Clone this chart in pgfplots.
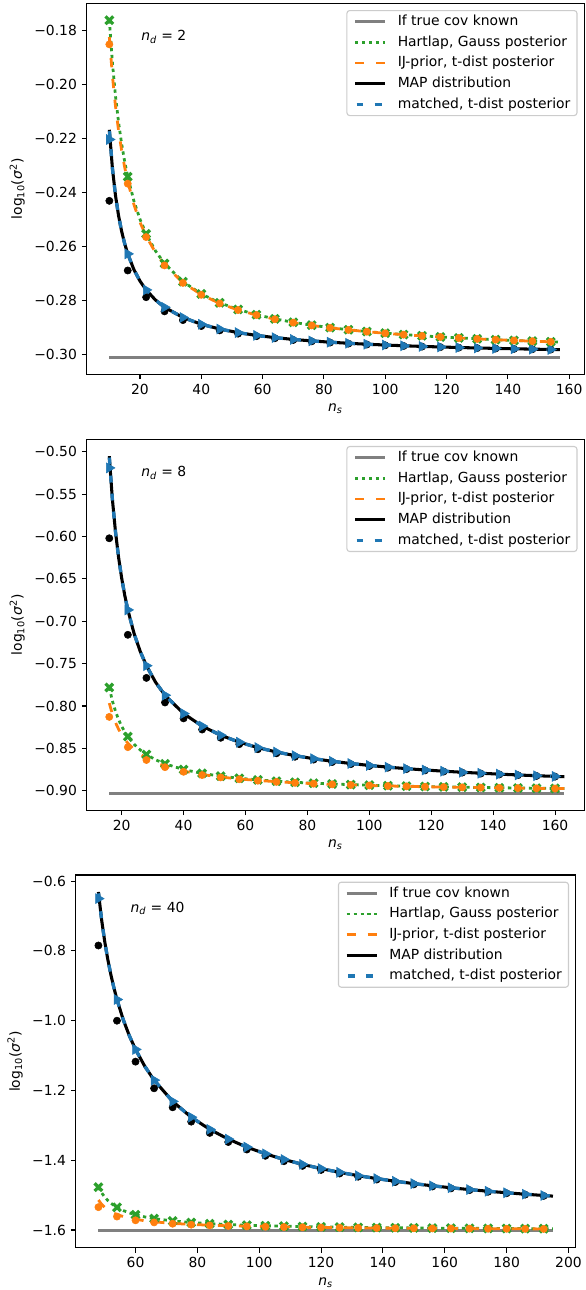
\documentclass[border=0pt]{standalone}
\usepackage{fontspec}
\setmainfont{DejaVu Sans}
\usepackage{pgfplots}
\usepackage{pgfplotstable}
\pgfplotsset{compat=1.18}

\definecolor{cgray}{HTML}{808080}
\definecolor{cgreen}{HTML}{2CA02C}
\definecolor{corange}{HTML}{FF7F0E}
\definecolor{cblue}{HTML}{1F77B4}

% filled X marker, like matplotlib's 'X'
\pgfdeclareplotmark{fatx}{%
  \pgfpathmoveto{\pgfqpoint{0.919\pgfplotmarksize}{0.495\pgfplotmarksize}}%
  \pgfpathlineto{\pgfqpoint{0.424\pgfplotmarksize}{0pt}}%
  \pgfpathlineto{\pgfqpoint{0.919\pgfplotmarksize}{-0.495\pgfplotmarksize}}%
  \pgfpathlineto{\pgfqpoint{0.495\pgfplotmarksize}{-0.919\pgfplotmarksize}}%
  \pgfpathlineto{\pgfqpoint{0pt}{-0.424\pgfplotmarksize}}%
  \pgfpathlineto{\pgfqpoint{-0.495\pgfplotmarksize}{-0.919\pgfplotmarksize}}%
  \pgfpathlineto{\pgfqpoint{-0.919\pgfplotmarksize}{-0.495\pgfplotmarksize}}%
  \pgfpathlineto{\pgfqpoint{-0.424\pgfplotmarksize}{0pt}}%
  \pgfpathlineto{\pgfqpoint{-0.919\pgfplotmarksize}{0.495\pgfplotmarksize}}%
  \pgfpathlineto{\pgfqpoint{-0.495\pgfplotmarksize}{0.919\pgfplotmarksize}}%
  \pgfpathlineto{\pgfqpoint{0pt}{0.424\pgfplotmarksize}}%
  \pgfpathlineto{\pgfqpoint{0.495\pgfplotmarksize}{0.919\pgfplotmarksize}}%
  \pgfpathclose
  \pgfusepathqfill
}

% n_d = 2 : theory curves (N, Hartlap, IJ-prior, MAP)
\pgfplotstableread{
N hart ij map
10 -0.17609 -0.18235 -0.21671
11 -0.19189 -0.19673 -0.23099
12 -0.20412 -0.20791 -0.24103
13 -0.21388 -0.21695 -0.24850
14 -0.22185 -0.22435 -0.25429
15 -0.22848 -0.23061 -0.25891
16 -0.23408 -0.23587 -0.26269
18 -0.24304 -0.24437 -0.26850
20 -0.24988 -0.25099 -0.27277
22 -0.25527 -0.25607 -0.27605
25 -0.26152 -0.26211 -0.27974
28 -0.26627 -0.26677 -0.28248
34 -0.27300 -0.27335 -0.28627
40 -0.27755 -0.27777 -0.28878
46 -0.28083 -0.28107 -0.29055
52 -0.28330 -0.28349 -0.29188
58 -0.28524 -0.28537 -0.29291
64 -0.28679 -0.28691 -0.29373
70 -0.28806 -0.28817 -0.29440
76 -0.28913 -0.28921 -0.29495
82 -0.29003 -0.29011 -0.29542
88 -0.29081 -0.29087 -0.29583
94 -0.29148 -0.29153 -0.29618
100 -0.29208 -0.29213 -0.29648
106 -0.29260 -0.29263 -0.29675
112 -0.29306 -0.29309 -0.29699
118 -0.29348 -0.29349 -0.29720
124 -0.29385 -0.29387 -0.29740
130 -0.29419 -0.29421 -0.29757
136 -0.29450 -0.29451 -0.29773
142 -0.29478 -0.29479 -0.29787
148 -0.29504 -0.29505 -0.29800
154 -0.29528 -0.29529 -0.29813
157 -0.29539 -0.29539 -0.29818
}\linesA
% n_d = 2 : simulations
\pgfplotstableread{
N hart ij dot blue
10 -0.17609 -0.18505 -0.24304 -0.22030
16 -0.23408 -0.23667 -0.26885 -0.26269
22 -0.25527 -0.25647 -0.27875 -0.27605
28 -0.26627 -0.26697 -0.28400 -0.28248
34 -0.27300 -0.27345 -0.28724 -0.28627
40 -0.27755 -0.27787 -0.28945 -0.28878
46 -0.28083 -0.28107 -0.29105 -0.29055
52 -0.28330 -0.28349 -0.29226 -0.29188
58 -0.28524 -0.28537 -0.29320 -0.29291
64 -0.28679 -0.28691 -0.29397 -0.29373
70 -0.28806 -0.28817 -0.29460 -0.29440
76 -0.28913 -0.28921 -0.29512 -0.29495
82 -0.29003 -0.29011 -0.29557 -0.29542
88 -0.29081 -0.29087 -0.29595 -0.29583
94 -0.29148 -0.29153 -0.29628 -0.29618
100 -0.29208 -0.29213 -0.29658 -0.29648
106 -0.29260 -0.29263 -0.29683 -0.29675
112 -0.29306 -0.29309 -0.29706 -0.29699
118 -0.29348 -0.29349 -0.29726 -0.29720
124 -0.29385 -0.29387 -0.29745 -0.29740
130 -0.29419 -0.29421 -0.29762 -0.29757
136 -0.29450 -0.29451 -0.29777 -0.29773
142 -0.29478 -0.29479 -0.29791 -0.29787
148 -0.29504 -0.29505 -0.29804 -0.29800
154 -0.29528 -0.29529 -0.29816 -0.29813
}\marksA

% n_d = 8
\pgfplotstableread{
N hart ij map
16 -0.77815 -0.79662 -0.50515
17 -0.79395 -0.80948 -0.55576
18 -0.80618 -0.81940 -0.59409
19 -0.81594 -0.82737 -0.62434
20 -0.82391 -0.83388 -0.64891
21 -0.83054 -0.83925 -0.66935
22 -0.83614 -0.84393 -0.68662
24 -0.84510 -0.85126 -0.71432
26 -0.85194 -0.85699 -0.73560
28 -0.85733 -0.86158 -0.75249
31 -0.86358 -0.86684 -0.77222
34 -0.86833 -0.87097 -0.78733
40 -0.87506 -0.87692 -0.80899
46 -0.87961 -0.88093 -0.82379
52 -0.88289 -0.88394 -0.83457
58 -0.88536 -0.88620 -0.84275
64 -0.88730 -0.88790 -0.84917
70 -0.88885 -0.88940 -0.85436
76 -0.89012 -0.89065 -0.85864
82 -0.89119 -0.89172 -0.86223
88 -0.89209 -0.89255 -0.86529
94 -0.89287 -0.89326 -0.86791
100 -0.89354 -0.89389 -0.87020
106 -0.89414 -0.89444 -0.87221
112 -0.89466 -0.89492 -0.87398
118 -0.89512 -0.89536 -0.87557
124 -0.89554 -0.89575 -0.87699
130 -0.89591 -0.89610 -0.87826
136 -0.89625 -0.89643 -0.87942
142 -0.89656 -0.89672 -0.88047
148 -0.89684 -0.89699 -0.88145
154 -0.89710 -0.89723 -0.88234
160 -0.89734 -0.89746 -0.88315
163 -0.89745 -0.89756 -0.88353
}\linesB
\pgfplotstableread{
N hart ij dot blue
16 -0.77815 -0.81292 -0.60206 -0.51900
22 -0.83614 -0.84863 -0.71600 -0.68662
28 -0.85733 -0.86378 -0.76687 -0.75249
34 -0.86833 -0.87227 -0.79588 -0.78733
40 -0.87506 -0.87772 -0.81467 -0.80899
46 -0.87961 -0.88153 -0.82784 -0.82379
52 -0.88289 -0.88434 -0.83759 -0.83457
58 -0.88536 -0.88650 -0.84510 -0.84275
64 -0.88730 -0.88820 -0.85106 -0.84917
70 -0.88885 -0.88960 -0.85591 -0.85436
76 -0.89012 -0.89075 -0.85993 -0.85864
82 -0.89119 -0.89172 -0.86332 -0.86223
88 -0.89209 -0.89255 -0.86622 -0.86529
94 -0.89287 -0.89326 -0.86872 -0.86791
100 -0.89354 -0.89389 -0.87091 -0.87020
106 -0.89414 -0.89444 -0.87283 -0.87221
112 -0.89466 -0.89492 -0.87454 -0.87398
118 -0.89512 -0.89536 -0.87606 -0.87557
124 -0.89554 -0.89575 -0.87743 -0.87699
130 -0.89591 -0.89610 -0.87867 -0.87826
136 -0.89625 -0.89643 -0.87979 -0.87942
142 -0.89656 -0.89672 -0.88081 -0.88047
148 -0.89684 -0.89699 -0.88175 -0.88145
154 -0.89710 -0.89723 -0.88262 -0.88234
160 -0.89734 -0.89746 -0.88341 -0.88315
}\marksB

% n_d = 40
\pgfplotstableread{
N hart ij map
48 -1.47712 -1.51412 -0.63091
49 -1.49292 -1.52597 -0.70858
50 -1.50515 -1.53486 -0.77096
51 -1.51491 -1.54172 -0.82288
52 -1.52288 -1.54720 -0.86712
53 -1.52951 -1.55180 -0.90552
54 -1.53511 -1.55555 -0.93930
56 -1.54407 -1.56151 -0.99639
58 -1.55091 -1.56592 -1.04313
60 -1.55630 -1.56943 -1.08234
63 -1.56255 -1.57347 -1.13086
66 -1.56730 -1.57659 -1.17040
72 -1.57403 -1.58102 -1.23137
78 -1.57858 -1.58403 -1.27654
84 -1.58186 -1.58625 -1.31151
90 -1.58433 -1.58793 -1.33949
96 -1.58627 -1.58929 -1.36242
102 -1.58782 -1.59034 -1.38158
108 -1.58909 -1.59131 -1.39786
114 -1.59016 -1.59226 -1.41186
120 -1.59106 -1.59290 -1.42405
126 -1.59184 -1.59346 -1.43474
132 -1.59251 -1.59396 -1.44420
138 -1.59311 -1.59440 -1.45264
144 -1.59363 -1.59479 -1.46022
150 -1.59409 -1.59515 -1.46708
156 -1.59451 -1.59546 -1.47328
162 -1.59488 -1.59576 -1.47893
168 -1.59522 -1.59603 -1.48412
174 -1.59553 -1.59627 -1.48887
180 -1.59581 -1.59649 -1.49326
186 -1.59607 -1.59670 -1.49732
192 -1.59631 -1.59690 -1.50109
195 -1.59642 -1.59698 -1.50286
}\linesC
\pgfplotstableread{
N hart ij dot blue
48 -1.47712 -1.53452 -0.78440 -0.65000
54 -1.53511 -1.56145 -1.00000 -0.93930
60 -1.55630 -1.57223 -1.11739 -1.08234
66 -1.56730 -1.57819 -1.19382 -1.17040
72 -1.57403 -1.58202 -1.24833 -1.23137
78 -1.57858 -1.58473 -1.28944 -1.27654
84 -1.58186 -1.58675 -1.32172 -1.31151
90 -1.58433 -1.58833 -1.34777 -1.33949
96 -1.58627 -1.58959 -1.36930 -1.36242
102 -1.58782 -1.59064 -1.38739 -1.38158
108 -1.58909 -1.59151 -1.40283 -1.39786
114 -1.59016 -1.59226 -1.41616 -1.41186
120 -1.59106 -1.59290 -1.42781 -1.42405
126 -1.59184 -1.59346 -1.43806 -1.43474
132 -1.59251 -1.59396 -1.44716 -1.44420
138 -1.59311 -1.59440 -1.45529 -1.45264
144 -1.59363 -1.59479 -1.46261 -1.46022
150 -1.59409 -1.59515 -1.46922 -1.46708
156 -1.59451 -1.59546 -1.47523 -1.47328
162 -1.59488 -1.59576 -1.48072 -1.47893
168 -1.59522 -1.59603 -1.48575 -1.48412
174 -1.59553 -1.59627 -1.49037 -1.48887
180 -1.59581 -1.59649 -1.49466 -1.49326
186 -1.59607 -1.59670 -1.49861 -1.49732
192 -1.59631 -1.59690 -1.50228 -1.50109
}\marksC

\pgfplotsset{
  panel/.style={
    scale only axis, width=358.2pt, height=267pt,
    axis line style={line width=0.8pt},
    tick align=outside, xtick pos=bottom, ytick pos=left,
    major tick length=3.5pt,
    every tick/.style={black, line width=0.8pt},
    tick label style={font=\fontsize{10}{12}\selectfont},
    label style={font=\fontsize{10}{12}\selectfont},
    xlabel={\textit{n}\textsubscript{\textit{s}}},
    ylabel={log\textsubscript{10}(\textit{σ}\textsuperscript{2})},
    legend cell align=left,
    legend image code/.code={\draw[##1, mark=none] (0pt,0pt) -- (21.6pt,0pt);},
    legend style={at={(1,1)}, anchor=north east, xshift=-4.8pt, yshift=-4.8pt,
      draw=black!20, line width=0.8pt, rounded corners=2pt, fill=white,
      fill opacity=0.8, text opacity=1, inner xsep=4.7pt, inner ysep=3.1pt,
      font=\fontsize{10}{12}\selectfont,
      nodes={inner sep=0pt, text height=7.6pt, text depth=2.2pt},
      row sep=5.1pt,
      /tikz/every odd column/.append style={column sep=7.9pt}},
  },
}

% simulation markers first, theory lines over them
\newcommand{\curves}[5]{%
  \addplot[forget plot, only marks, mark=*, mark size=2.6pt, black] table[x=N, y=dot] {#2};
  \addplot[forget plot, only marks, mark=triangle*, mark size=4.1pt, cblue,
    every mark/.append style={rotate=-90}] table[x=N, y=blue] {#2};
  \addplot[forget plot, only marks, mark=fatx, mark size=3.9pt, cgreen] table[x=N, y=hart] {#2};
  \addplot[forget plot, only marks, mark=*, mark size=2.6pt, corange] table[x=N, y=ij] {#2};
  \addplot[cgray, line width=2pt] coordinates {(#3,#5) (#4,#5)};
  \addlegendentry{If true cov known}
  \addplot[cgreen, line width=2pt, dash pattern=on 2.4pt off 2.6pt] table[x=N, y=hart] {#1};
  \addlegendentry{Hartlap, Gauss posterior}
  \addplot[corange, line width=2pt, dash pattern=on 6.7pt off 8.4pt] table[x=N, y=ij] {#1};
  \addlegendentry{IJ-prior, t-dist posterior}
  \addplot[black, line width=2.2pt] table[x=N, y=map] {#1};
  \addlegendentry{MAP distribution}
  \addplot[cblue, line width=2.4pt, dash pattern=on 5pt off 8pt, dash phase=-1pt] table[x=N, y=map] {#1};
  \addlegendentry{matched, t-dist posterior}
}

\begin{document}
\begin{tikzpicture}
\useasboundingbox (0,0) rectangle (421.2pt,-928.8pt);

\begin{axis}[panel, at={(62.4pt,-2.4pt)}, anchor=north west,
  xmin=2.6, xmax=164.9, ymin=-0.30728, ymax=-0.16984,
  xtick={20,40,60,80,100,120,140,160},
  xticklabels={20,40,60,80,100,120,140,160},
  ytick={-0.30,-0.28,-0.26,-0.24,-0.22,-0.20,-0.18},
  yticklabels={−0.30,−0.28,−0.26,−0.24,−0.22,−0.20,−0.18}]
\curves{\linesA}{\marksA}{10}{157}{-0.30103}
\node[anchor=base west, font=\fontsize{10}{12}\selectfont] at (rel axis cs:0.1,0.9) {\textit{n}\textsubscript{\textit{d}} = 2};
\end{axis}

\begin{axis}[panel, at={(62.4pt,-316.3pt)}, anchor=north west,
  xmin=8.7, xmax=169.4, ymin=-0.92299, ymax=-0.48525,
  xtick={20,40,60,80,100,120,140,160},
  xticklabels={20,40,60,80,100,120,140,160},
  ytick={-0.90,-0.85,-0.80,-0.75,-0.70,-0.65,-0.60,-0.55,-0.50},
  yticklabels={−0.90,−0.85,−0.80,−0.75,−0.70,−0.65,−0.60,−0.55,−0.50}]
\curves{\linesB}{\marksB}{16}{163}{-0.90309}
\node[anchor=base west, font=\fontsize{10}{12}\selectfont] at (rel axis cs:0.1,0.9) {\textit{n}\textsubscript{\textit{d}} = 8};
\end{axis}

\begin{axis}[panel, at={(54.5pt,-630pt)}, anchor=north west, width=360pt, height=268.3pt,
  xmin=40.65, xmax=202.35, ymin=-1.65062, ymax=-0.58235,
  xtick={60,80,100,120,140,160,180,200},
  xticklabels={60,80,100,120,140,160,180,200},
  ytick={-1.6,-1.4,-1.2,-1.0,-0.8,-0.6},
  yticklabels={−1.6,−1.4,−1.2,−1.0,−0.8,−0.6}]
\curves{\linesC}{\marksC}{48}{195}{-1.60206}
\node[anchor=base west, font=\fontsize{10}{12}\selectfont] at (rel axis cs:0.1,0.9) {\textit{n}\textsubscript{\textit{d}} = 40};
\end{axis}
\end{tikzpicture}
\end{document}
